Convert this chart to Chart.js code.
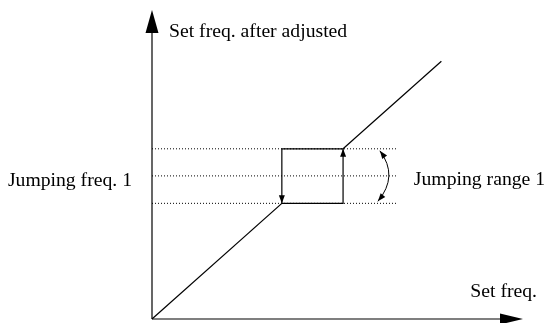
<!DOCTYPE html>
<html>
<head>
<meta charset="utf-8">
<script src="https://cdn.jsdelivr.net/npm/chart.js@4/dist/chart.umd.min.js"></script>
<style>
  html, body { margin: 0; padding: 0; background: #fff; }
  #wrap { width: 545px; height: 323px; position: relative; }
</style>
</head>
<body>
<div id="wrap"><canvas id="jumpChart"></canvas></div>
<script>
// values (set freq. on x, adjusted freq. on y, same units)
var axisMaxX = 100;
var axisMaxY = 93.5;
var lowerLineX = [0, 35];        // y = x below the jump
var upperLineX = [51.5, 78];     // y = x above the jump
var jumpLow = 35;
var jumpHigh = 51.5;
var jumpFreq = 43.3;             // jumping freq. 1 (middle of the range)
var dottedEndX = 66;

var labels = {
    yTitle: 'Set freq. after adjusted',
    xTitle: 'Set freq.',
    freq: 'Jumping freq. 1',
    range: 'Jumping range 1'
};

function pts(xs) {
    return xs.map(function(x) { return { x: x, y: x }; });
}
function hline(y) {
    return [{ x: 0, y: y }, { x: dottedEndX, y: y }];
}

var solid = { borderColor: '#000', borderWidth: 1.2, pointRadius: 0, showLine: true, fill: false, clip: false };
var dotted = { borderColor: '#000', borderWidth: 1, borderDash: [1, 2], pointRadius: 0, showLine: true, fill: false, clip: false };

function arrowHead(ctx, tipX, tipY, dirX, dirY, len, half) {
    var bx = tipX - dirX * len, by = tipY - dirY * len;
    var nx = -dirY, ny = dirX;
    ctx.beginPath();
    ctx.moveTo(tipX, tipY);
    ctx.lineTo(bx + nx * half, by + ny * half);
    ctx.lineTo(bx - nx * half, by - ny * half);
    ctx.closePath();
    ctx.fill();
}

var decorations = {
    id: 'decorations',
    afterDatasetsDraw: function(chart) {
        var ctx = chart.ctx;
        var sx = chart.scales.x, sy = chart.scales.y;
        var ox = sx.getPixelForValue(0), oy = sy.getPixelForValue(0);
        ctx.save();
        ctx.fillStyle = '#000';
        ctx.strokeStyle = '#000';
        // axis arrows
        arrowHead(ctx, ox, sy.getPixelForValue(axisMaxY), 0, -1, 23, 6.5);
        arrowHead(ctx, sx.getPixelForValue(axisMaxX), oy, 1, 0, 23, 5.5);
        // box arrows
        var xl = sx.getPixelForValue(jumpLow), xh = sx.getPixelForValue(jumpHigh);
        var yl = sy.getPixelForValue(jumpLow), yh = sy.getPixelForValue(jumpHigh);
        arrowHead(ctx, xl, yl, 0, 1, 8, 3);
        arrowHead(ctx, xh, yh, 0, -1, 8, 3);
        // curved range arrow
        var cx = sx.getPixelForValue(dottedEndX) - 14;
        var t = { x: cx - 3, y: yh + 2 }, b = { x: cx - 5, y: yl - 2 };
        var ctrl = { x: cx + 16, y: (yh + yl) / 2 };
        ctx.lineWidth = 1;
        ctx.beginPath();
        ctx.moveTo(t.x, t.y);
        ctx.quadraticCurveTo(ctrl.x, ctrl.y, b.x, b.y);
        ctx.stroke();
        var d1x = t.x - ctrl.x, d1y = t.y - ctrl.y, n1 = Math.hypot(d1x, d1y);
        arrowHead(ctx, t.x, t.y, d1x / n1, d1y / n1, 8, 3);
        var d2x = b.x - ctrl.x, d2y = b.y - ctrl.y, n2 = Math.hypot(d2x, d2y);
        arrowHead(ctx, b.x, b.y, d2x / n2, d2y / n2, 8, 3);
        // texts
        ctx.font = '19.7px "Liberation Serif", "Times New Roman", serif';
        ctx.textBaseline = 'alphabetic';
        ctx.textAlign = 'left';
        ctx.fillText(labels.yTitle, ox + 17, 37);
        var ym = sy.getPixelForValue(jumpFreq);
        ctx.textAlign = 'right';
        ctx.fillText(labels.freq, ox - 20, ym + 10);
        ctx.textAlign = 'left';
        ctx.fillText(labels.range, sx.getPixelForValue(dottedEndX) + 17, ym + 9);
        ctx.textAlign = 'right';
        ctx.fillText(labels.xTitle, 537, 297);
        ctx.restore();
    }
};

var ctx = document.getElementById('jumpChart').getContext('2d');
var jumpChart = new Chart(ctx, {
    type: 'scatter',
    data: {
        datasets: [
            Object.assign({ data: [{ x: 0, y: 0 }, { x: axisMaxX - 2, y: 0 }] }, solid),
            Object.assign({ data: [{ x: 0, y: 0 }, { x: 0, y: axisMaxY - 2 }] }, solid),
            Object.assign({ data: pts(lowerLineX) }, solid),
            Object.assign({ data: pts(upperLineX) }, solid),
            Object.assign({ data: [
                { x: jumpLow, y: jumpLow }, { x: jumpLow, y: jumpHigh },
                { x: jumpHigh, y: jumpHigh }, { x: jumpHigh, y: jumpLow },
                { x: jumpLow, y: jumpLow }
            ] }, solid),
            Object.assign({ data: hline(jumpHigh) }, dotted),
            Object.assign({ data: hline(jumpFreq) }, dotted),
            Object.assign({ data: hline(jumpLow) }, dotted)
        ]
    },
    options: {
        responsive: true,
        maintainAspectRatio: false,
        animation: false,
        layout: { padding: { left: 152, right: 22, top: 10, bottom: 4 } },
        plugins: { legend: { display: false }, tooltip: { enabled: false } },
        scales: {
            x: { type: 'linear', min: 0, max: axisMaxX, display: false },
            y: { type: 'linear', min: 0, max: axisMaxY, display: false }
        }
    },
    plugins: [decorations]
});
</script>
</body>
</html>
